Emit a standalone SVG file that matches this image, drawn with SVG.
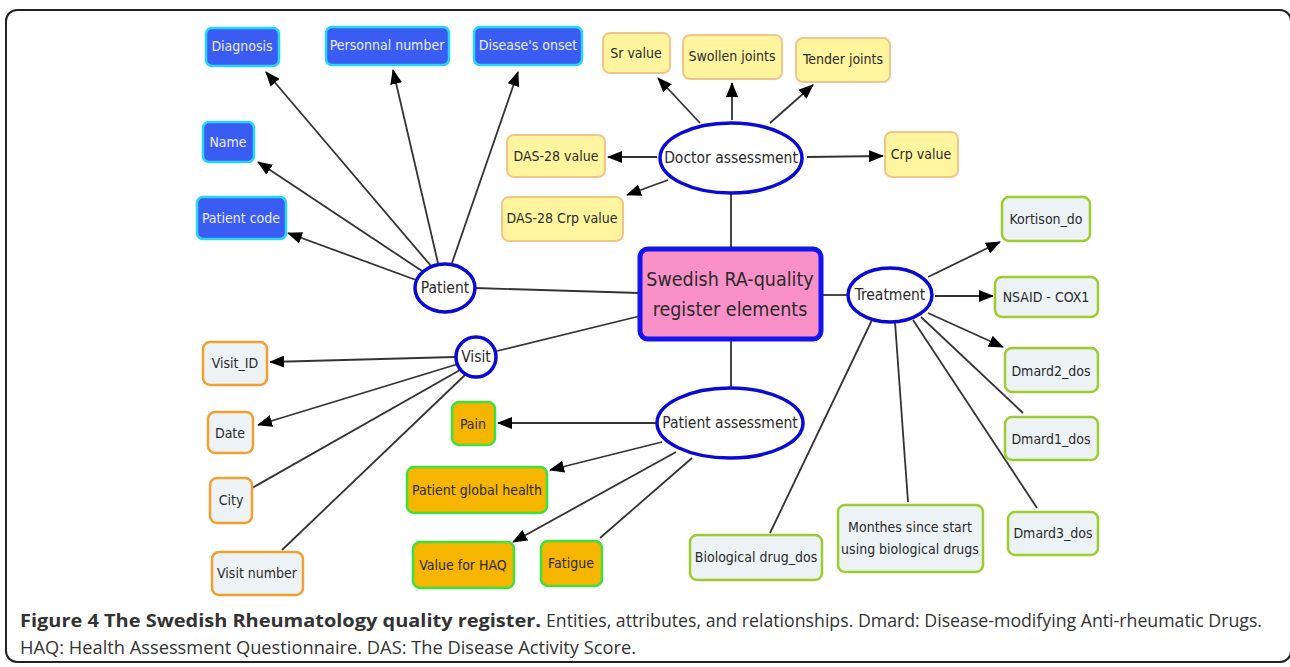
<svg xmlns="http://www.w3.org/2000/svg" width="1290" height="667" viewBox="0 0 1290 667">
<style>
text{font-family:"DejaVu Sans Condensed","Liberation Sans",sans-serif;font-size:14px;fill:#2a2a2a;text-anchor:middle;dominant-baseline:central}
.blue rect{fill:#3b5cf3;stroke:#27d6f0;stroke-width:2.5}
.blue text{fill:#e8ecff}
.yel rect{fill:#fff59e;stroke:#f3c48a;stroke-width:2}
.grn rect{fill:#edf2f5;stroke:#9ccc30;stroke-width:2.5}
.org rect{fill:#edf2f5;stroke:#f0a030;stroke-width:2.5}
.pa rect{fill:#f6b600;stroke:#3ee03e;stroke-width:2.5}
.ell ellipse{fill:#fff;stroke:#0a0ad4;stroke-width:3.5}
.ell text{font-size:15.5px}
#connectors line{stroke:#333;stroke-width:1.8}
.cap{font-family:"Open Sans","Liberation Sans",sans-serif;font-size:18px;fill:#333;text-anchor:start;dominant-baseline:auto}
</style>
<defs>
<marker id="ah" markerUnits="userSpaceOnUse" markerWidth="16" markerHeight="12" refX="14" refY="6" orient="auto">
<path d="M0,0 L15,6 L0,12 z" fill="#000"/>
</marker>
</defs>
<rect x="6" y="10" width="1285" height="652" rx="11" fill="none" stroke="#222" stroke-width="2"/>

<g id="connectors">
<line x1="431" y1="266" x2="266" y2="72" marker-end="url(#ah)"/>
<line x1="438" y1="263" x2="393" y2="70" marker-end="url(#ah)"/>
<line x1="452" y1="263" x2="518" y2="72" marker-end="url(#ah)"/>
<line x1="422" y1="271" x2="258" y2="162" marker-end="url(#ah)"/>
<line x1="416" y1="280" x2="288" y2="233" marker-end="url(#ah)"/>
<line x1="475" y1="288" x2="640" y2="293"/>
<line x1="700" y1="123" x2="658" y2="78" marker-end="url(#ah)"/>
<line x1="732" y1="120" x2="732" y2="83" marker-end="url(#ah)"/>
<line x1="770" y1="123" x2="813" y2="85" marker-end="url(#ah)"/>
<line x1="657" y1="157" x2="608" y2="157" marker-end="url(#ah)"/>
<line x1="668" y1="180" x2="627" y2="195" marker-end="url(#ah)"/>
<line x1="807" y1="157" x2="883" y2="156" marker-end="url(#ah)"/>
<line x1="731" y1="193" x2="731" y2="248"/>
<line x1="822" y1="295" x2="848" y2="295"/>
<line x1="928" y1="277" x2="1000" y2="242" marker-end="url(#ah)"/>
<line x1="935" y1="296" x2="993" y2="296" marker-end="url(#ah)"/>
<line x1="928" y1="313" x2="1003" y2="347" marker-end="url(#ah)"/>
<line x1="921" y1="317" x2="1023" y2="413"/>
<line x1="913" y1="320" x2="1037" y2="508"/>
<line x1="895" y1="322" x2="908" y2="502"/>
<line x1="872" y1="320" x2="770" y2="533"/>
<line x1="497" y1="351" x2="640" y2="316"/>
<line x1="455" y1="357" x2="270" y2="362" marker-end="url(#ah)"/>
<line x1="458" y1="364" x2="258" y2="425" marker-end="url(#ah)"/>
<line x1="460" y1="370" x2="252" y2="488"/>
<line x1="465" y1="375" x2="282" y2="550"/>
<line x1="731" y1="340" x2="731" y2="388"/>
<line x1="657" y1="423" x2="498" y2="423" marker-end="url(#ah)"/>
<line x1="662" y1="442" x2="550" y2="470" marker-end="url(#ah)"/>
<line x1="676" y1="452" x2="513" y2="542" marker-end="url(#ah)"/>
<line x1="692" y1="458" x2="600" y2="538"/>
</g>

<g id="center"><rect x="640" y="249" width="181" height="90" rx="8" fill="#f991c8" stroke="#1414ee" stroke-width="5"/>
<text x="730" y="279" style="font-size:19.5px">Swedish RA-quality</text>
<text x="730" y="309" style="font-size:19.5px">register elements</text></g>

<g id="patient" class="ell"><ellipse cx="445" cy="288" rx="30" ry="24"/><text x="445" y="288">Patient</text></g>
<g id="visit" class="ell"><ellipse cx="476" cy="357" rx="20" ry="20"/><text x="476" y="357">Visit</text></g>
<g id="doctor" class="ell"><ellipse cx="731" cy="158" rx="71" ry="35"/><text x="731" y="158">Doctor assessment</text></g>
<g id="treatment" class="ell"><ellipse cx="890" cy="295" rx="42" ry="27"/><text x="890" y="295">Treatment</text></g>
<g id="passess" class="ell"><ellipse cx="730" cy="423" rx="73" ry="35"/><text x="730" y="423">Patient assessment</text></g>

<g id="diagnosis" class="blue"><rect x="206" y="28" width="73" height="38" rx="6"/><text x="242" y="46">Diagnosis</text></g>
<g id="personnal" class="blue"><rect x="326" y="27" width="123" height="38" rx="6"/><text x="387" y="45">Personnal number</text></g>
<g id="onset" class="blue"><rect x="474" y="27" width="108" height="38" rx="6"/><text x="528" y="45">Disease's onset</text></g>
<g id="name" class="blue"><rect x="203" y="122" width="51" height="40" rx="6"/><text x="228" y="142">Name</text></g>
<g id="pcode" class="blue"><rect x="197" y="197" width="89" height="42" rx="6"/><text x="241" y="218">Patient code</text></g>

<g id="sr" class="yel"><rect x="603" y="33" width="67" height="40" rx="7"/><text x="636" y="53">Sr value</text></g>
<g id="swollen" class="yel"><rect x="683" y="35" width="99" height="44" rx="7"/><text x="732" y="56">Swollen joints</text></g>
<g id="tender" class="yel"><rect x="796" y="38" width="94" height="44" rx="7"/><text x="843" y="59">Tender joints</text></g>
<g id="das28" class="yel"><rect x="507" y="135" width="98" height="42" rx="7"/><text x="556" y="156">DAS-28 value</text></g>
<g id="das28crp" class="yel"><rect x="502" y="197" width="121" height="44" rx="7"/><text x="562" y="218">DAS-28 Crp value</text></g>
<g id="crp" class="yel"><rect x="885" y="132" width="73" height="45" rx="7"/><text x="921" y="154">Crp value</text></g>

<g id="kortison" class="grn"><rect x="1002" y="197" width="88" height="44" rx="7"/><text x="1046" y="219">Kortison_do</text></g>
<g id="nsaid" class="grn"><rect x="995" y="277" width="103" height="40" rx="7"/><text x="1046" y="297">NSAID - COX1</text></g>
<g id="dmard2" class="grn"><rect x="1005" y="348" width="93" height="44" rx="7"/><text x="1051" y="371">Dmard2_dos</text></g>
<g id="dmard1" class="grn"><rect x="1005" y="417" width="93" height="43" rx="7"/><text x="1051" y="439">Dmard1_dos</text></g>
<g id="dmard3" class="grn"><rect x="1008" y="512" width="90" height="43" rx="7"/><text x="1053" y="533">Dmard3_dos</text></g>
<g id="monthes" class="grn"><rect x="838" y="505" width="145" height="67" rx="7"/><text x="910" y="527">Monthes since start</text><text x="910" y="549">using biological drugs</text></g>
<g id="bio" class="grn"><rect x="690" y="535" width="132" height="45" rx="7"/><text x="756" y="557">Biological drug_dos</text></g>

<g id="visitid" class="org"><rect x="203" y="342" width="64" height="43" rx="7"/><text x="235" y="363">Visit_ID</text></g>
<g id="date" class="org"><rect x="208" y="412" width="45" height="41" rx="7"/><text x="230" y="433">Date</text></g>
<g id="city" class="org"><rect x="210" y="478" width="42" height="45" rx="7"/><text x="231" y="500">City</text></g>
<g id="visitnum" class="org"><rect x="212" y="552" width="91" height="43" rx="7"/><text x="257" y="573">Visit number</text></g>

<g id="pain" class="pa"><rect x="452" y="402" width="43" height="43" rx="7"/><text x="473" y="424">Pain</text></g>
<g id="pgh" class="pa"><rect x="407" y="467" width="140" height="46" rx="7"/><text x="477" y="490">Patient global health</text></g>
<g id="haq" class="pa"><rect x="413" y="542" width="101" height="46" rx="7"/><text x="463" y="565">Value for HAQ</text></g>
<g id="fatigue" class="pa"><rect x="541" y="541" width="61" height="45" rx="7"/><text x="571" y="563">Fatigue</text></g>

<text class="cap" x="20" y="627" font-weight="bold" fill="#222" textLength="521" lengthAdjust="spacingAndGlyphs">Figure 4 The Swedish Rheumatology quality register.</text>
<text class="cap" x="546" y="627" textLength="716" lengthAdjust="spacingAndGlyphs">Entities, attributes, and relationships. Dmard: Disease-modifying Anti-rheumatic Drugs.</text>
<text class="cap" x="20" y="654" textLength="616" lengthAdjust="spacingAndGlyphs">HAQ: Health Assessment Questionnaire. DAS: The Disease Activity Score.</text>
</svg>
